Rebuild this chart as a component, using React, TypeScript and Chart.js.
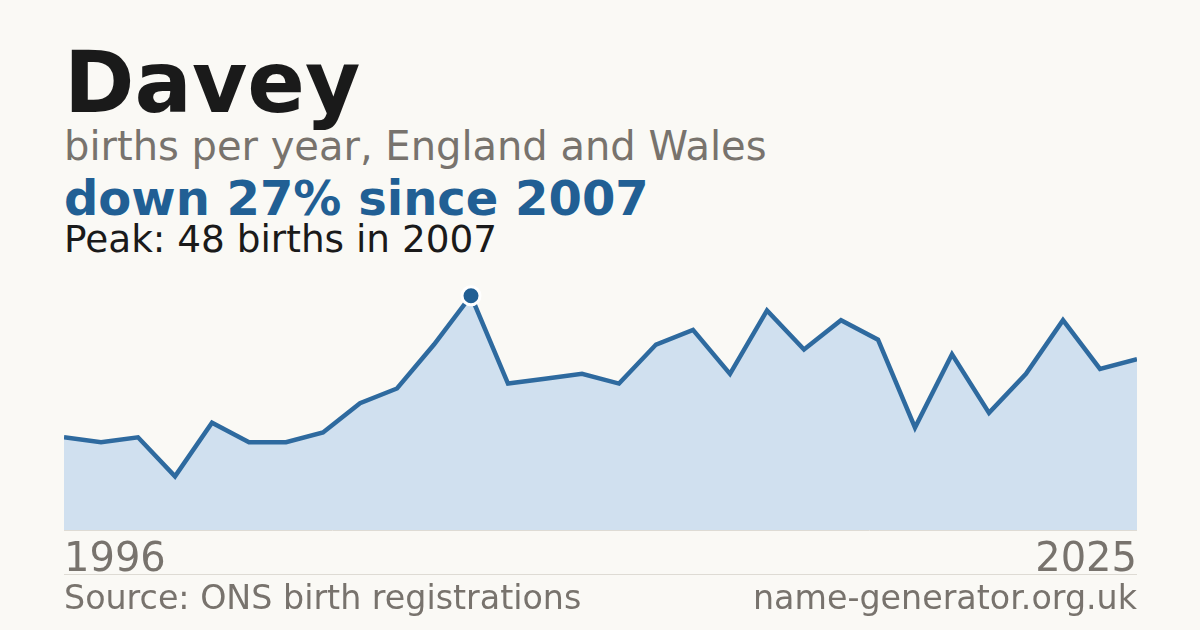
import React, { useEffect, useRef } from "react";
import Chart from "chart.js/auto";

const name = "Davey";
const years = [
  "1996", "1997", "1998", "1999", "2000", "2001", "2002", "2003", "2004", "2005",
  "2006", "2007", "2008", "2009", "2010", "2011", "2012", "2013", "2014", "2015",
  "2016", "2017", "2018", "2019", "2020", "2021", "2022", "2023", "2024", "2025",
];
const births = [
  19, 18, 19, 11, 22, 18, 18, 20, 26, 29,
  38, 48, 30, 31, 32, 30, 38, 41, 32, 45,
  37, 43, 39, 21, 36, 24, 32, 43, 33, 35,
];

const FONT = '"DejaVu Sans", sans-serif';
const BG = "#faf9f5";
const BLUE = "#215f94";
const GREY = "#78736d";
const INK = "#1a1a1a";

const peak = Math.max(...births);
const peakIndex = births.indexOf(peak);
const last = births[births.length - 1];
const drop = Math.round((1 - last / peak) * 100);

const NameChart: React.FC = () => {
  const chartRef = useRef<HTMLCanvasElement>(null);
  const chartInstance = useRef<Chart | null>(null);

  useEffect(() => {
    const ctx = chartRef.current?.getContext("2d");
    if (!ctx) return;

    if (chartInstance.current) {
      chartInstance.current.destroy();
    }

    chartInstance.current = new Chart(ctx, {
      type: "line",
      data: {
        labels: years,
        datasets: [
          {
            data: births,
            borderColor: "#2e6a9f",
            borderWidth: 4.5,
            backgroundColor: "#d0e0ef",
            fill: "origin",
            tension: 0,
            pointRadius: (c: any) => (c.dataIndex === peakIndex ? 9 : 0),
            pointHoverRadius: 0,
            pointBackgroundColor: BLUE,
            pointBorderColor: "#ffffff",
            pointBorderWidth: 3,
            clip: false,
          },
        ],
      },
      options: {
        animation: false,
        responsive: false,
        maintainAspectRatio: false,
        layout: { autoPadding: false, padding: { top: 16, left: 0, right: 0, bottom: 0 } },
        plugins: { legend: { display: false }, tooltip: { enabled: false } },
        scales: {
          y: { display: false, min: 0, max: 50 },
          x: {
            grid: { display: false, drawTicks: false },
            border: { display: true, color: "#dedbd4", width: 1 },
            ticks: {
              autoSkip: false,
              maxRotation: 0,
              align: "inner",
              padding: 0,
              color: GREY,
              font: { family: FONT, size: 40, lineHeight: 1.55 },
              callback: (_v: any, i: number) =>
                i === 0 || i === years.length - 1 ? years[i] : "",
            },
          },
        },
      },
    });

    return () => {
      if (chartInstance.current) {
        chartInstance.current.destroy();
        chartInstance.current = null;
      }
    };
  }, []);

  return <canvas ref={chartRef} width={1073} height={322} />;
};

const text = (top: number, size: number, color: string, bold = false): React.CSSProperties => ({
  position: "absolute",
  left: 64,
  top,
  fontSize: size,
  lineHeight: 1,
  color,
  fontWeight: bold ? 700 : 400,
  whiteSpace: "nowrap",
});

export default function App() {
  useEffect(() => {
    document.body.style.margin = "0";
    document.body.style.background = BG;
  }, []);

  return (
    <div
      style={{
        position: "fixed",
        top: 0,
        left: 0,
        width: 1200,
        height: 630,
        background: BG,
        fontFamily: FONT,
        overflow: "hidden",
      }}
    >
      <div style={text(40, 85, INK, true)}>{name}</div>
      <div style={text(126, 40, GREY)}>births per year, England and Wales</div>
      <div style={text(174, 48, BLUE, true)}>
        down {drop}% since {years[peakIndex]}
      </div>
      <div style={text(221, 37.4, INK)}>
        Peak: {peak} births in {years[peakIndex]}
      </div>
      <div style={{ position: "absolute", left: 64, top: 270, width: 1073, height: 322 }}>
        <NameChart />
      </div>
      <div
        style={{
          position: "absolute",
          left: 64,
          top: 574,
          width: 1073,
          height: 0,
          borderTop: "1px solid #dedbd4",
        }}
      />
      <div style={text(581, 33.3, GREY)}>Source: ONS birth registrations</div>
      <div style={{ ...text(581, 33.3, GREY), left: "auto", right: 63 }}>name-generator.org.uk</div>
    </div>
  );
}
